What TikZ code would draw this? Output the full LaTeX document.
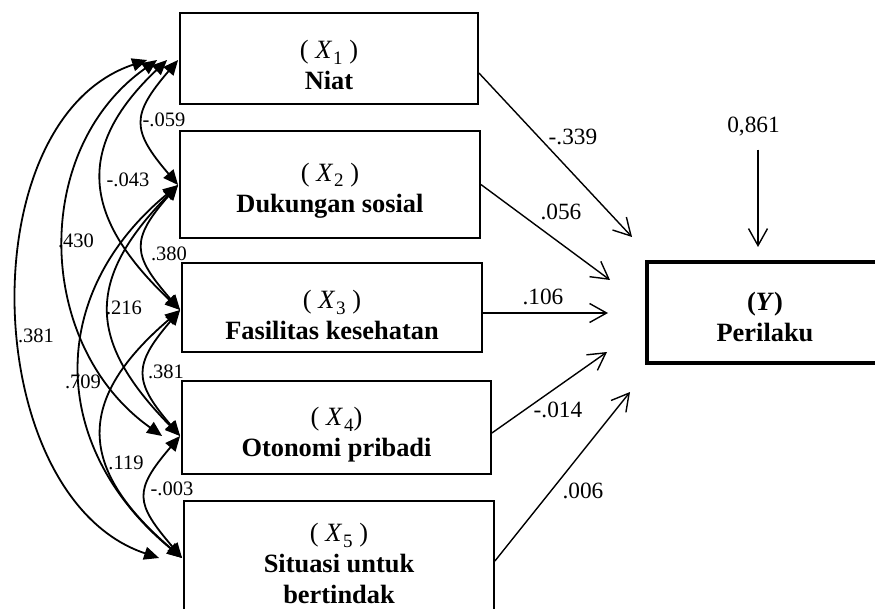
\documentclass[tikz,border=0pt]{standalone}
\usepackage{fontspec}
\setmainfont{Liberation Serif}
\usetikzlibrary{arrows.meta}
\newcommand{\Xv}[1]{\textit{X}\kern1pt\raisebox{-0.22em}{\fontsize{19}{19}\selectfont #1}}
\begin{document}
\begin{tikzpicture}[x=1pt,y=-1pt,
  box/.style={draw, line width=1.8pt, align=center, inner sep=0pt,
    font=\fontsize{26.4}{31}\selectfont},
  cov/.style={{Triangle[length=15pt,width=13pt]}-{Triangle[length=15pt,width=13pt]}, line width=1.8pt},
  pth/.style={-{Straight Barb[length=17pt,width=19pt]}, line width=1.4pt},
  lbl/.style={font=\fontsize{20.5}{22}\selectfont, inner sep=0pt},
  rlbl/.style={font=\fontsize{23.3}{25}\selectfont, inner sep=0pt}]
\useasboundingbox (0,0) rectangle (875,609);
\clip (0,0) rectangle (875,609);

% boxes
\node[box, minimum width=298pt, minimum height=91pt] (x1) at (329,58.5)
  {\rule{0pt}{31pt}( \Xv{1} )\\ \textbf{Niat}};
\node[box, minimum width=300pt, minimum height=107pt] (x2) at (330,184.5)
  {\rule{0pt}{30pt}( \Xv{2} )\\ \textbf{Dukungan sosial}};
\node[box, minimum width=300pt, minimum height=89pt] (x3) at (332,307.5)
  {\rule{0pt}{33pt}( \Xv{3} )\\ \textbf{Fasilitas kesehatan}};
\node[box, minimum width=309pt, minimum height=93pt] (x4) at (336.5,427.5)
  {\rule{0pt}{33pt}( \Xv{4})\\ \textbf{Otonomi pribadi}};
\node[box, minimum width=310pt, minimum height=120pt] (x5) at (339,561)
  {\rule{0pt}{23pt}( \Xv{5} )\\ \textbf{Situasi untuk}\\ \textbf{bertindak}};
\node[box, line width=4pt, minimum width=236pt, minimum height=101pt] (y) at (765,312.5)
  {\rule{0pt}{28pt}\textbf{(\textit{Y})}\\ \textbf{Perilaku}};

% left anchor points
\coordinate (w1) at ([xshift=-1pt,yshift=-1.5pt]x1.west);
\coordinate (w2) at ([xshift=-1pt,yshift=-0.5pt]x2.west);
\coordinate (w3) at ([xshift=-1pt,yshift=-2.5pt]x3.west);
\coordinate (w4) at ([xshift=-1pt,yshift=-8.5pt]x4.west);
\coordinate (w5) at ([xshift=-1pt,yshift=3pt]x5.west);
\coordinate (w1b) at ([xshift=-11pt]w1);
\coordinate (w1c) at ([xshift=-21pt]w1);
\coordinate (w1d) at ([xshift=-31pt]w1);
\coordinate (w4c) at ([xshift=-18pt]w4);
\coordinate (w5d) at ([xshift=-23pt]w5);

% covariance arcs
\draw[cov] (w1) .. controls +(-47,55) and +(-47,-55) .. (w2);
\draw[cov] (w2) .. controls +(-48,55) and +(-48,-55) .. (w3);
\draw[cov] (w3) .. controls +(-47,55) and +(-47,-55) .. (w4);
\draw[cov] (w4) .. controls +(-47,55) and +(-47,-55) .. (w5);
\draw[cov] (w1b) .. controls +(-95,90) and +(-95,-90) .. (w3);
\draw[cov] (w1c) .. controls +(-127,90) and +(-127,-90) .. (w4c);
\draw[cov] (w1d) .. controls +(-180,60) and +(-180,-60) .. (w5d);
\draw[cov] (w2) .. controls +(-93,95) and +(-93,-95) .. (w4);
\draw[cov] (w2) .. controls +(-133,110) and +(-133,-110) .. (w5);
\draw[cov] (w3) .. controls +(-105,90) and +(-105,-90) .. (w5);

% covariance labels
\node[lbl] (l12) at (164,120) {-.059};
\node[lbl] (l13) at (128,180) {-.043};
\node[lbl] (l14) at (76,241) {.430};
\node[lbl] (l23) at (169,254) {.380};
\node[lbl] (l24) at (124,307.5) {.216};
\node[lbl] (l15) at (36,336) {.381};
\node[lbl] (l25) at (83,382) {.709};
\node[lbl] (l34) at (166,372) {.381};
\node[lbl] (l35) at (126,463) {.119};
\node[lbl] (l45) at (172,489) {-.003};

% path tips
\coordinate (t1) at (632,237);
\coordinate (t2) at (610,280);
\coordinate (t3) at (608,313);
\coordinate (t4) at (607,352);
\coordinate (t5) at (630,392);

\draw[pth] ([yshift=-14.5pt]x1.east) -- (t1);
\draw[pth] (x2.east) -- (t2);
\draw[pth] ([yshift=-5.5pt]x3.east) -- (t3);
\draw[pth] ([yshift=-5.5pt]x4.east) -- (t4);
\draw[pth] (x5.east) -- (t5);

\node[rlbl] (p1) at (573,137) {-.339};
\node[rlbl] (p2) at (561,212) {.056};
\node[rlbl] (p3) at (543,297) {.106};
\node[rlbl] (p4) at (558,410) {-.014};
\node[rlbl] (p5) at (583,491) {.006};

% error term
\node[rlbl] (err) at (753.5,127) {0,861};
\coordinate (t0) at (758,247);
\draw[pth] ([xshift=4.5pt,yshift=-13pt]err.south) -- (t0);
\end{tikzpicture}
\end{document}
